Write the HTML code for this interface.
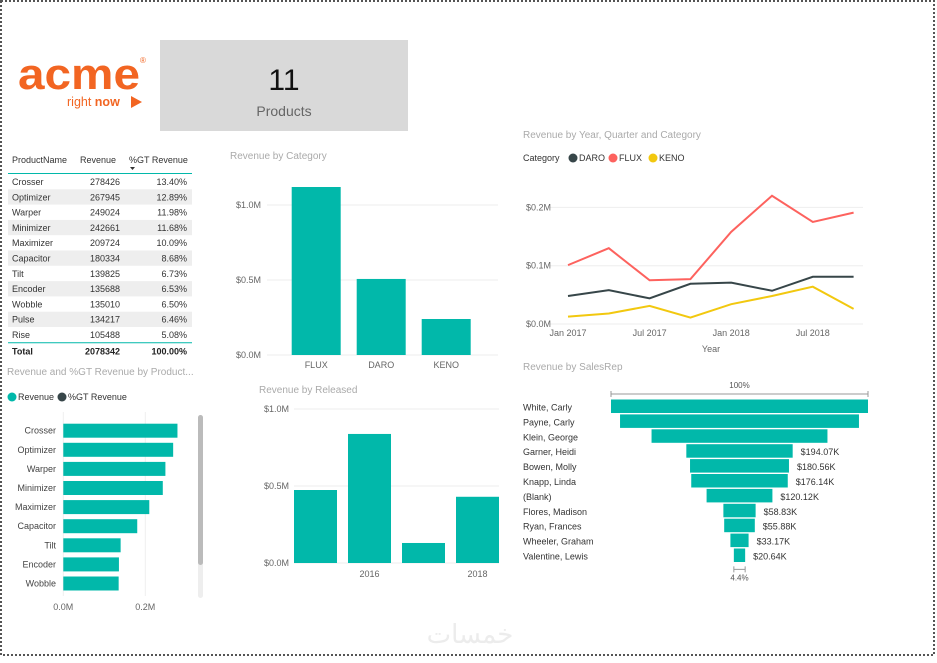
<!DOCTYPE html>
<html><head><meta charset="utf-8">
<style>
html,body{margin:0;padding:0;background:#fff;}
body{width:937px;height:658px;overflow:hidden;font-family:"Liberation Sans","DejaVu Sans",sans-serif;}
svg text{font-family:"Liberation Sans","DejaVu Sans",sans-serif;}
</style></head>
<body>
<svg id="dash" width="937" height="658" xmlns="http://www.w3.org/2000/svg">
<rect x="1" y="1" width="933" height="654" fill="none" stroke="#555" stroke-width="2" stroke-dasharray="2,2"/>
<g>
<text x="18" y="89" font-size="44" font-weight="bold" fill="#f26522" textLength="122" lengthAdjust="spacingAndGlyphs">acme</text>
<text x="140" y="63" font-size="8" fill="#f26522">®</text>
<text x="67" y="106" font-size="12.5" fill="#f26522">right <tspan font-weight="bold">now</tspan></text>
<polygon points="131,96 131,108 142,102" fill="#f26522"/>
</g>
<g>
<rect x="160" y="40" width="248" height="91" fill="#d9d9d9"/>
<text x="284" y="90" font-size="30" text-anchor="middle" fill="#111">11</text>
<text x="284" y="116" font-size="14" text-anchor="middle" fill="#666">Products</text>
</g>
<g id="table"></g>
<g id="catChart"></g>
<g id="relChart"></g>
<g id="lineChart"></g>
<g id="funnel"></g>
<g id="hbar"></g>
<text x="470" y="643" font-size="26" text-anchor="middle" fill="#ececec" font-family="'DejaVu Sans',sans-serif">خمسات</text>
</svg>
<script>
const products = ["Crosser","Optimizer","Warper","Minimizer","Maximizer","Capacitor","Tilt","Encoder","Wobble","Pulse","Rise"];
const productRevenue = [278426,267945,249024,242661,209724,180334,139825,135688,135010,134217,105488];
const productPct = ["13.40%","12.89%","11.98%","11.68%","10.09%","8.68%","6.73%","6.53%","6.50%","6.46%","5.08%"];
const categories = ["FLUX","DARO","KENO"];
const categoryRevenue = [1.12,0.507,0.24];
const catTicks = ["$0.0M","$0.5M","$1.0M"];
const releasedYears = ["2015","2016","2017","2018"];
const releasedRevenue = [0.474,0.838,0.13,0.43];
const quarters = ["Jan 2017","Apr 2017","Jul 2017","Oct 2017","Jan 2018","Apr 2018","Jul 2018","Oct 2018"];
const fluxSeries = [0.101,0.130,0.075,0.077,0.158,0.220,0.175,0.191];
const daroSeries = [0.048,0.058,0.044,0.069,0.071,0.057,0.081,0.081];
const kenoSeries = [0.0126,0.018,0.031,0.011,0.034,0.048,0.064,0.026];
const lineTicks = ["$0.0M","$0.1M","$0.2M"];
const salesReps = ["White, Carly","Payne, Carly","Klein, George","Garner, Heidi","Bowen, Molly","Knapp, Linda","(Blank)","Flores, Madison","Ryan, Frances","Wheeler, Graham","Valentine, Lewis"];
const repRevenue = [469,436,321,194.07,180.56,176.14,120.12,58.83,55.88,33.17,20.64];
const repLabels = ["","","","$194.07K","$180.56K","$176.14K","$120.12K","$58.83K","$55.88K","$33.17K","$20.64K"];

const NS="http://www.w3.org/2000/svg";
const TEAL="#01B8AA";
function mk(parent,tag,attrs,txt){const e=document.createElementNS(NS,tag);for(const k in attrs)e.setAttribute(k,attrs[k]);if(txt!==undefined)e.textContent=txt;parent.appendChild(e);return e;}

// TABLE
(function(){
const g=document.getElementById('table');
let t;
t=mk(g,'text',{x:12,y:163,'font-size':9,fill:'#333'},'ProductName');


t=mk(g,'text',{x:80,y:163,'font-size':9,fill:'#333'},'Revenue');


t=mk(g,'text',{x:129,y:163,'font-size':9,fill:'#333'},'%GT Revenue');


mk(g,'polygon',{points:'130,167 135,167 132.5,170',fill:'#333'});
mk(g,'line',{x1:8,x2:192,y1:173.5,y2:173.5,stroke:TEAL,'stroke-width':1});
const y0=174,step=15.3;
products.forEach((p,i)=>{
  const y=y0+i*step;
  const r=mk(g,'g',{});
  
  
  if(i%2===1) mk(r,'rect',{x:8,y:y,width:184,height:step,fill:'#eeeeee'});
  mk(r,'text',{x:12,y:y+11,'font-size':9,fill:'#333'},p);
  mk(r,'text',{x:120,y:y+11,'font-size':9,fill:'#333','text-anchor':'end'},productRevenue[i]);
  mk(r,'text',{x:187,y:y+11,'font-size':9,fill:'#333','text-anchor':'end'},productPct[i]);
});
const ty=y0+products.length*step;
mk(g,'line',{x1:8,x2:192,y1:ty+0.5,y2:ty+0.5,stroke:TEAL,'stroke-width':1});
const tot=productRevenue.reduce((a,b)=>a+b,0);
mk(g,'text',{x:12,y:ty+12,'font-size':9,'font-weight':'bold',fill:'#222'},'Total');
mk(g,'text',{x:120,y:ty+12,'font-size':9,'font-weight':'bold',fill:'#222','text-anchor':'end'},tot);
mk(g,'text',{x:187,y:ty+12,'font-size':9,'font-weight':'bold',fill:'#222','text-anchor':'end'},'100.00%');
})();

// CATEGORY CHART
(function(){
const g=document.getElementById('catChart');
mk(g,'text',{x:230,y:159,'font-size':10,fill:'#aaa'},'Revenue by Category');
const y=v=>355-v*150;
const x=i=>291.7+i*65;
catTicks.forEach((tk,i)=>{const v=i*0.5;
  mk(g,'line',{x1:267,x2:498,y1:y(v),y2:y(v),stroke:'#eee'});
  mk(g,'text',{x:261,y:y(v)+3,'font-size':9,fill:'#666','text-anchor':'end'},tk);});
categories.forEach((c,i)=>{
  const b=mk(g,'rect',{x:x(i),y:y(categoryRevenue[i]),width:49,height:categoryRevenue[i]*150,fill:TEAL});
  
  
  mk(g,'text',{x:x(i)+24.5,y:368,'font-size':9,fill:'#666','text-anchor':'middle'},c);
});
})();

// RELEASED CHART
(function(){
const g=document.getElementById('relChart');
mk(g,'text',{x:259,y:393,'font-size':10,fill:'#aaa'},'Revenue by Released');
const y=v=>563-v*154;
const x=i=>294+i*54;
catTicks.forEach((tk,i)=>{const v=i*0.5;
  mk(g,'line',{x1:294,x2:499,y1:y(v),y2:y(v),stroke:'#eee'});
  mk(g,'text',{x:289,y:y(v)+3,'font-size':9,fill:'#666','text-anchor':'end'},tk);});
releasedYears.forEach((c,i)=>{
  const b=mk(g,'rect',{x:x(i),y:y(releasedRevenue[i]),width:43,height:releasedRevenue[i]*154,fill:TEAL});
  
  
  if(i%2===1) mk(g,'text',{x:x(i)+21.5,y:577,'font-size':9,fill:'#666','text-anchor':'middle'},c);
});
})();

// LINE CHART
(function(){
const g=document.getElementById('lineChart');
mk(g,'text',{x:523,y:138,'font-size':10,fill:'#aaa'},'Revenue by Year, Quarter and Category');
mk(g,'text',{x:523,y:161,'font-size':9,fill:'#333'},'Category');
[['DARO','#374649',573],['FLUX','#FD625E',613],['KENO','#F2C80F',653]].forEach(l=>{
  const e=mk(g,'g',{});
  
  
  mk(e,'circle',{cx:l[2],cy:158,r:4.5,fill:l[1]});
  mk(e,'text',{x:l[2]+6,y:161,'font-size':9,fill:'#333'},l[0]);
});
const y=v=>324-v*583;
const x=i=>568+i*40.8;
lineTicks.forEach((tk,i)=>{const v=i*0.1;
  mk(g,'line',{x1:550,x2:863,y1:y(v),y2:y(v),stroke:'#eee'});
  mk(g,'text',{x:551,y:y(v)+3,'font-size':9,fill:'#666','text-anchor':'end'},tk);});
quarters.forEach((q,i)=>{ if(i%2===0) mk(g,'text',{x:x(i),y:336,'font-size':9,fill:'#666','text-anchor':'middle'},q);});
mk(g,'text',{x:711,y:352,'font-size':9,fill:'#666','text-anchor':'middle'},'Year');
[[fluxSeries,'#FD625E','flux'],[daroSeries,'#374649','daro'],[kenoSeries,'#F2C80F','keno']].forEach(s=>{
  const p=mk(g,'polyline',{points:s[0].map((v,i)=>x(i)+','+y(v)).join(' '),fill:'none',stroke:s[1],'stroke-width':2});
  
  
});
})();

// FUNNEL
(function(){
const g=document.getElementById('funnel');
mk(g,'text',{x:523,y:370,'font-size':10,fill:'#aaa'},'Revenue by SalesRep');
const cx=739.5, maxW=257, mx=repRevenue[0];
const w=v=>v/mx*maxW;
mk(g,'text',{x:cx,y:388,'font-size':8,fill:'#555','text-anchor':'middle'},'100%');
mk(g,'path',{d:`M${cx-maxW/2},391 v6 M${cx-maxW/2},394 H${cx+maxW/2} M${cx+maxW/2},391 v6`,stroke:'#999',fill:'none'});
const y0=399.5,step=14.9;
salesReps.forEach((r,i)=>{
  const yy=y0+i*step, ww=w(repRevenue[i]);
  mk(g,'text',{x:523,y:yy+11,'font-size':9,fill:'#333'},r);
  const b=mk(g,'rect',{x:cx-ww/2,y:yy,width:ww,height:13.5,fill:TEAL});
  
  
  if(repLabels[i]) mk(g,'text',{x:cx+ww/2+8,y:yy+11,'font-size':9,fill:'#333'},repLabels[i]);
});
const lw=w(repRevenue[repRevenue.length-1]);
const ly=y0+salesReps.length*step+6;
mk(g,'path',{d:`M${cx-lw/2},${ly-3} v6 M${cx-lw/2},${ly} H${cx+lw/2} M${cx+lw/2},${ly-3} v6`,stroke:'#999',fill:'none'});
mk(g,'text',{x:cx,y:ly+11,'font-size':8,fill:'#555','text-anchor':'middle'},(repRevenue[repRevenue.length-1]/mx*100).toFixed(1)+'%');
})();

// HORIZONTAL BAR
(function(){
const g=document.getElementById('hbar');
mk(g,'text',{x:7,y:375,'font-size':10,fill:'#aaa'},'Revenue and %GT Revenue by Product...');
const l1=mk(g,'g',{});


mk(l1,'circle',{cx:12,cy:397,r:4.5,fill:TEAL});
mk(l1,'text',{x:18,y:400,'font-size':9,fill:'#333'},'Revenue');
const l2=mk(g,'g',{});


mk(l2,'circle',{cx:62,cy:397,r:4.5,fill:'#374649'});
mk(l2,'text',{x:68,y:400,'font-size':9,fill:'#333'},'%GT Revenue');
const x=v=>63.3+v*0.00041;
[0,200000].forEach((v,i)=>{
  mk(g,'line',{x1:x(v),x2:x(v),y1:412,y2:596,stroke:'#eee'});
  mk(g,'text',{x:x(v),y:610,'font-size':9,fill:'#666','text-anchor':'middle'},['0.0M','0.2M'][i]);
});
const shown=9;
for(let i=0;i<shown;i++){
  const cy=430.7+i*19.1;
  mk(g,'text',{x:56,y:cy+3,'font-size':9,fill:'#444','text-anchor':'end'},products[i]);
  const b=mk(g,'rect',{x:x(0),y:cy-7,width:x(productRevenue[i])-x(0),height:14,fill:TEAL});
  
  
}
const sb=mk(g,'rect',{x:198,y:415,width:5,height:183,rx:2.5,fill:'#eee'});


const th=mk(g,'rect',{x:198,y:415,width:5,height:150,rx:2.5,fill:'#bbb'});


})();
</script>
</body></html>
